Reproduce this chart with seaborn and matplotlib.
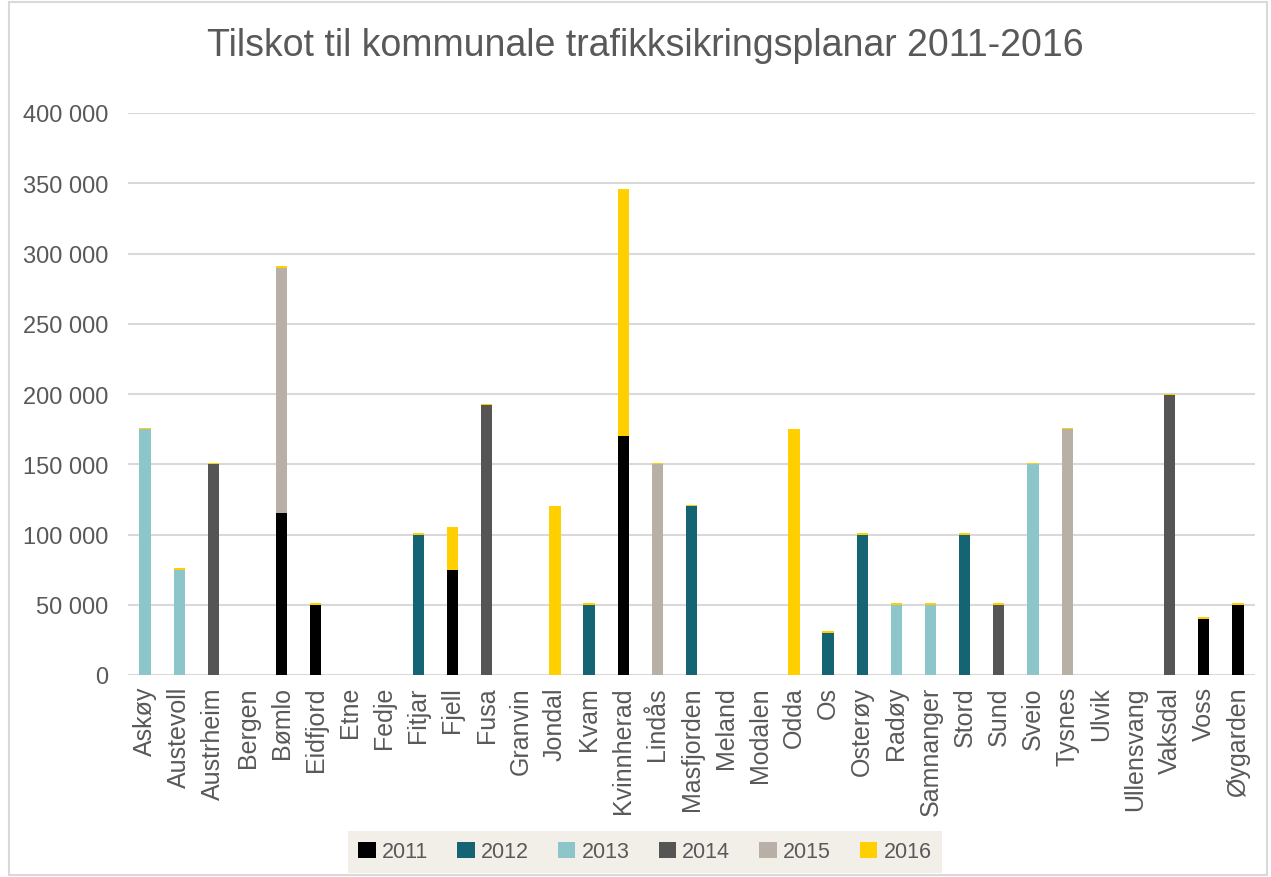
import numpy as np
import matplotlib
matplotlib.use("Agg")
import matplotlib.pyplot as plt
from matplotlib.patches import Patch, Rectangle
import seaborn as sns

kommunar = ['Askøy', 'Austevoll', 'Austrheim', 'Bergen', 'Bømlo', 'Eidfjord', 'Etne',
            'Fedje', 'Fitjar', 'Fjell', 'Fusa', 'Granvin', 'Jondal', 'Kvam', 'Kvinnherad',
            'Lindås', 'Masfjorden', 'Meland', 'Modalen', 'Odda', 'Os', 'Osterøy', 'Radøy',
            'Samnanger', 'Stord', 'Sund', 'Sveio', 'Tysnes', 'Ulvik', 'Ullensvang',
            'Vaksdal', 'Voss', 'Øygarden']

aar = ['2011', '2012', '2013', '2014', '2015', '2016']
fargar = ['#000000', '#156474', '#8CC5CA', '#555555', '#B8AFA6', '#FFCF00']

y2011 = [0, 0, 0, 0, 115000, 50000, 0, 0, 0, 75000, 0, 0, 0, 0, 170000,
         0, 0, 0, 0, 0, 0, 0, 0, 0, 0, 0, 0, 0, 0, 0, 0, 40000, 50000]
y2012 = [0, 0, 0, 0, 0, 0, 0, 0, 100000, 0, 0, 0, 0, 50000, 0,
         0, 120000, 0, 0, 0, 30000, 100000, 0, 0, 100000, 0, 0, 0, 0, 0, 0, 0, 0]
y2013 = [175000, 75000, 0, 0, 0, 0, 0, 0, 0, 0, 0, 0, 0, 0, 0,
         0, 0, 0, 0, 0, 0, 0, 50000, 50000, 0, 0, 150000, 0, 0, 0, 0, 0, 0]
y2014 = [0, 0, 150000, 0, 0, 0, 0, 0, 0, 0, 192000, 0, 0, 0, 0,
         0, 0, 0, 0, 0, 0, 0, 0, 0, 0, 50000, 0, 0, 0, 0, 199000, 0, 0]
y2015 = [0, 0, 0, 0, 175000, 0, 0, 0, 0, 0, 0, 0, 0, 0, 0,
         150000, 0, 0, 0, 0, 0, 0, 0, 0, 0, 0, 0, 175000, 0, 0, 0, 0, 0]
y2016 = [1000, 1000, 1000, 0, 1000, 1000, 0, 0, 1000, 30000, 1000, 0, 120000, 1000, 176000,
         1000, 1000, 0, 0, 175000, 1000, 1000, 1000, 1000, 1000, 1000, 1000, 1000, 0, 0,
         1200, 1000, 1000]

serier = [y2011, y2012, y2013, y2014, y2015, y2016]
kum = np.cumsum(np.array(serier), axis=0)

tekst = '#595959'
plt.rcParams['font.family'] = ['Liberation Sans', 'DejaVu Sans']

fig = plt.figure(figsize=(12.71, 8.78), dpi=100)
ax = fig.add_axes([128 / 1271, 1 - 676 / 878, (1255 - 128) / 1271, (676 - 114) / 878])

# stabla søyler: teikn totalen først, så dei lågare laga oppå
for i in reversed(range(len(aar))):
    sns.barplot(x=kommunar, y=kum[i], color=fargar[i], width=0.33,
                saturation=1, ax=ax, zorder=3)

ax.set_ylim(0, 400000)
ax.set_xlim(-0.5, len(kommunar) - 0.5)
ticks = np.arange(0, 400001, 50000)
ax.set_yticks(ticks)
ax.set_yticklabels([f'{t:,.0f}'.replace(',', ' ') for t in ticks])
ax.grid(axis='y', color='#D9D9D9', linewidth=1.5, zorder=0)
ax.set_axisbelow(True)
for s in ax.spines.values():
    s.set_visible(False)
ax.tick_params(axis='y', length=0, labelsize=17, colors=tekst, pad=14)
ax.tick_params(axis='x', length=0, labelsize=18, colors=tekst, labelrotation=90, pad=8)
ax.set_xlabel('')
ax.set_ylabel('')

fig.text(645 / 1271, 1 - 46 / 878, 'Tilskot til kommunale trafikksikringsplanar 2011-2016',
         ha='center', va='center', fontsize=27, color=tekst)

handles = [Patch(facecolor=c, edgecolor='none', label=a) for a, c in zip(aar, fargar)]
leg = fig.legend(handles=handles, loc='center', bbox_to_anchor=(645 / 1271, 1 - 853 / 878),
                 ncol=6, frameon=True, fontsize=15.5, handlelength=0.8, handleheight=0.8,
                 handletextpad=0.3, columnspacing=1.35, borderpad=0.5, fancybox=False)
leg.get_frame().set_facecolor('#EFEBE4')
leg.get_frame().set_edgecolor('none')
for t in leg.get_texts():
    t.set_color(tekst)

fig.patches.append(Rectangle((9 / 1271, 0.002), 1258 / 1271, 0.995, transform=fig.transFigure,
                             fill=False, edgecolor='#D9D9D9', linewidth=1.5))

fig.savefig('out.png', dpi=100)
